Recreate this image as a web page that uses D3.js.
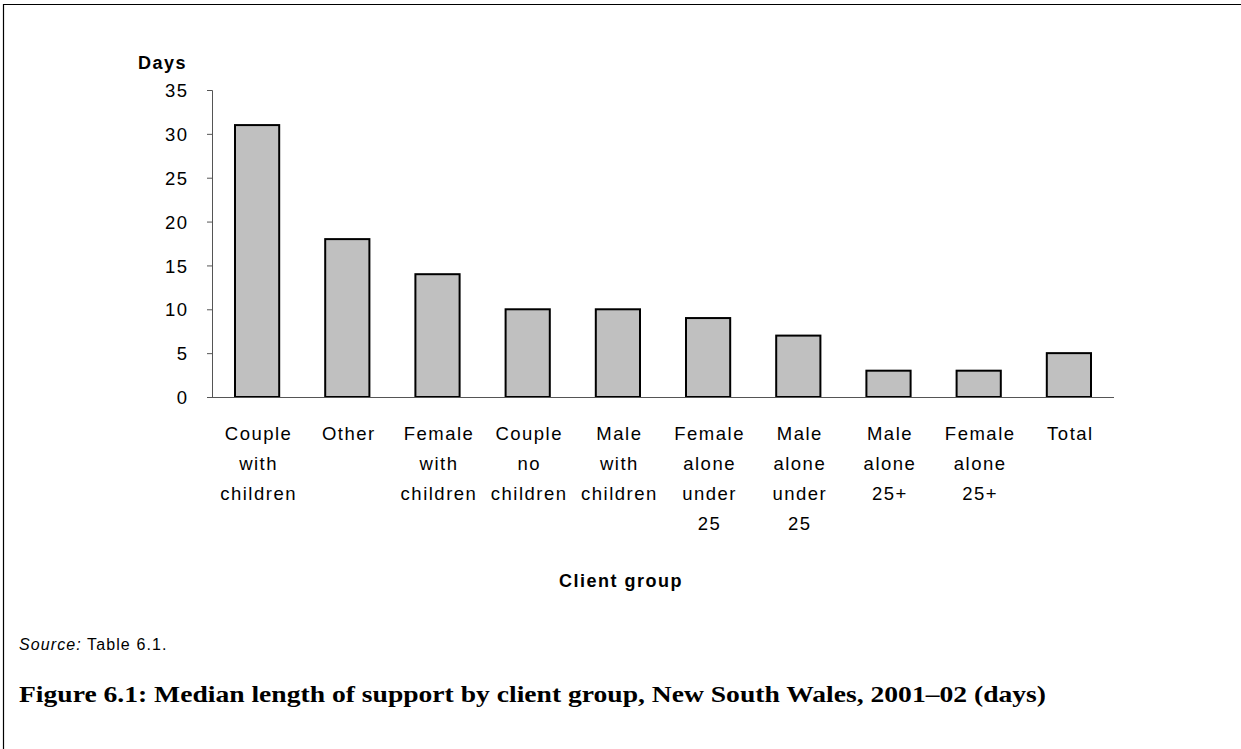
<!DOCTYPE html>
<html>
<head>
<meta charset="utf-8">
<script src="https://cdn.jsdelivr.net/npm/d3@7"></script>
<style>
  html, body { margin: 0; padding: 0; background: #fff; }
  svg { display: block; }
</style>
</head>
<body>
<script>
const categories = [
  ["Couple", "with", "children"],
  ["Other"],
  ["Female", "with", "children"],
  ["Couple", "no", "children"],
  ["Male", "with", "children"],
  ["Female", "alone", "under", "25"],
  ["Male", "alone", "under", "25"],
  ["Male", "alone", "25+"],
  ["Female", "alone", "25+"],
  ["Total"]
];
const values = [31, 18, 14, 10, 10, 9, 7, 3, 3, 5];
const yTicks = [0, 5, 10, 15, 20, 25, 30, 35];
const yTitle = "Days";
const xTitle = "Client group";
const sourceItalic = "Source:";
const sourceText = " Table 6.1.";
const caption = "Figure 6.1: Median length of support by client group, New South Wales, 2001\u201302 (days)";

(function () {
const W = 1241, H = 749;
const svg = d3.select("body").append("svg").attr("width", W).attr("height", H);

// frame (top and left rules)
svg.append("line").attr("x1", 3).attr("x2", W).attr("y1", 4.5).attr("y2", 4.5)
  .attr("stroke", "#000").attr("stroke-width", 1.2);
svg.append("line").attr("x1", 3.5).attr("x2", 3.5).attr("y1", 4).attr("y2", H)
  .attr("stroke", "#000").attr("stroke-width", 1.2);

const pLeft = 212, pRight = 1114, pTop = 90, pBottom = 397;
const keys = categories.map((c, i) => i);
const x = d3.scaleBand().domain(keys).range([pLeft, pRight]).paddingInner(0.51).paddingOuter(0.255);
const y = d3.scaleLinear().domain([0, 35]).range([pBottom, pTop]);

const font = "Arial, 'Liberation Sans', sans-serif";

// bars
svg.append("g").selectAll("rect").data(values).join("rect")
  .attr("x", (d, i) => x(i))
  .attr("y", d => y(d))
  .attr("width", x.bandwidth())
  .attr("height", d => y(0) - y(d))
  .attr("fill", "#c0c0c0")
  .attr("stroke", "#000")
  .attr("stroke-width", 2);

// y axis
const yAxis = svg.append("g").attr("transform", `translate(${pLeft},0)`)
  .call(d3.axisLeft(y).tickValues(yTicks).tickSize(5).tickPadding(20).tickFormat(d3.format("d")));
yAxis.select(".domain").attr("stroke", "#555").attr("stroke-width", 1);
yAxis.selectAll(".tick line").attr("stroke", "#555");
yAxis.selectAll(".tick text")
  .attr("font-family", font).attr("font-size", 18.5).attr("fill", "#000")
  .attr("letter-spacing", "1.5px").attr("dx", 1.5).attr("dy", "0.36em");

// x axis line
svg.append("line").attr("x1", pLeft).attr("x2", pRight).attr("y1", pBottom + 0.5).attr("y2", pBottom + 0.5)
  .attr("stroke", "#555").attr("stroke-width", 1);

// category labels
const lab = svg.append("g").selectAll("text").data(categories).join("text")
  .attr("font-family", font).attr("font-size", 18.5).attr("fill", "#000")
  .attr("letter-spacing", "1.5px")
  .attr("text-anchor", "middle");
lab.each(function(lines, i) {
  const cx = x(i) + x.bandwidth() / 2 + 1.5;
  d3.select(this).selectAll("tspan").data(lines).join("tspan")
    .attr("x", cx).attr("y", (d, j) => 440 + j * 30).text(d => d);
});

// axis titles
svg.append("text").attr("x", 138).attr("y", 69)
  .attr("font-family", font).attr("font-size", 18).attr("font-weight", "bold")
  .attr("letter-spacing", "1.5px").text(yTitle);
svg.append("text").attr("x", 621).attr("y", 587).attr("text-anchor", "middle")
  .attr("font-family", font).attr("font-size", 18).attr("font-weight", "bold")
  .attr("letter-spacing", "1.5px").text(xTitle);

// source
const src = svg.append("text").attr("x", 19).attr("y", 650)
  .attr("font-family", font).attr("font-size", 16).attr("letter-spacing", "1.1px");
src.append("tspan").attr("font-style", "italic").text(sourceItalic);
src.append("tspan").text(sourceText);

// caption
svg.append("text").attr("x", 19).attr("y", 702)
  .attr("font-family", "'Liberation Serif', 'DejaVu Serif', serif")
  .attr("font-size", 24).attr("font-weight", "bold")
  .attr("textLength", 1027).attr("lengthAdjust", "spacingAndGlyphs")
  .text(caption);
})();
</script>
</body>
</html>
